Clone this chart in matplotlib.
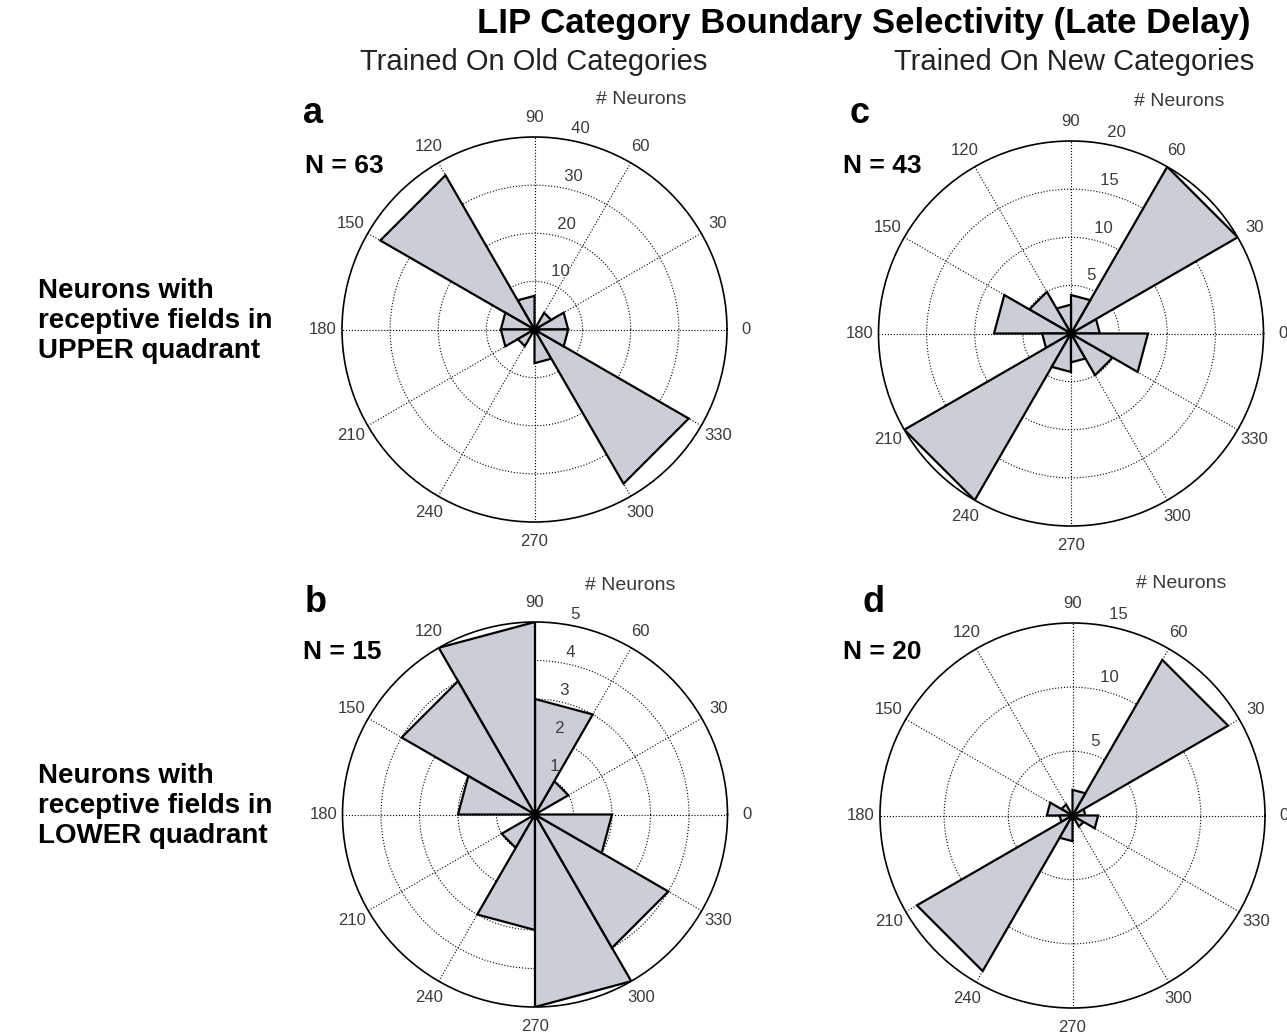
import numpy as np
import matplotlib.pyplot as plt

plt.rcParams['font.family'] = ['Liberation Sans', 'DejaVu Sans']

# rose histogram bins, 30 deg wide (degrees)
bin_edges = np.arange(0, 361, 30)
angle_labels = [str(a) for a in range(0, 360, 30)]

# neuron counts per bin, first bin is 0-30 deg
counts_a = [7, 4, 0, 7, 37, 7, 7, 4, 0, 7, 37, 7]   # old categories, upper RF
counts_b = [0, 1, 3, 5, 4, 2, 0, 1, 3, 5, 4, 2]     # old categories, lower RF
counts_c = [3, 20, 4, 3, 5, 8, 3, 20, 4, 3, 5, 8]   # new categories, upper RF
counts_d = [1, 14, 2, 0, 1, 2, 1, 14, 2, 0, 1, 2]   # new categories, lower RF

letters = ['a', 'b', 'c', 'd']
n_total = [63, 15, 43, 20]
r_max = [40, 5, 20, 15]
r_step = [10, 1, 5, 5]

title = 'LIP Category Boundary Selectivity (Late Delay)'
col_titles = ['Trained On Old Categories', 'Trained On New Categories']
row_titles = ['Neurons with\nreceptive fields in\nUPPER quadrant',
              'Neurons with\nreceptive fields in\nLOWER quadrant']

W, H = 1287, 1034
fig = plt.figure(figsize=(W / 100, H / 100), dpi=100, facecolor='w')

fill_col = '#cbced6'
tick_col = '#3a3a3a'
R = 192.5  # circle radius in pixels

# layout (pixels): plot centre, letter pos, "N =" pos, "# Neurons" pos
centres = [(534.5, 329.5), (535, 814.5), (1071, 333.5), (1072.5, 815.5)]
letter_pos = [(303, 123), (305, 612), (850, 123), (862, 612)]
n_pos = [(305, 173), (303, 659), (843, 173), (843, 659)]
unit_pos = [(641, 100), (630, 585), (1179, 101), (1181, 584)]


def rose(cx, cy, counts, rmax, rinc):
    ax = fig.add_axes([(cx - R) / W, 1 - (cy + R) / H, 2 * R / W, 2 * R / H],
                      projection='polar')
    ax.set_ylim(0, rmax)
    ax.set_xticks(np.deg2rad(bin_edges[:-1]))
    ax.set_yticks(np.arange(rinc, rmax, rinc))
    ax.set_xticklabels([])
    ax.set_yticklabels([])
    ax.tick_params(length=0)
    ax.grid(True, color='k', linestyle=':', linewidth=0.8)
    ax.spines['polar'].set_linewidth(1.2)

    # wedges with straight outer edge, like matlab rose()
    for i, v in enumerate(counts):
        if v == 0:
            continue
        t = np.deg2rad([0, bin_edges[i], bin_edges[i + 1], 0])
        ax.fill(t, [0, v, v, 0], facecolor=fill_col, edgecolor='k',
                linewidth=1.6, zorder=3)
    # the lines all meet in a dark blob at the origin
    ax.plot([0], [0], 'o', color='k', ms=5, zorder=4, clip_on=False)

    # angle labels outside the circle
    for a, lab in zip(bin_edges[:-1], angle_labels):
        ax.text(np.deg2rad(a), 1.1 * rmax, lab, ha='center', va='center',
                fontsize=12, color=tick_col)
    # radial labels along 82 deg
    for r in np.arange(rinc, rmax + rinc / 2, rinc):
        ax.text(np.deg2rad(82), r + rinc / 20, '  ' + str(int(r)),
                ha='left', va='bottom', fontsize=12, color=tick_col)
    return ax


all_counts = [counts_a, counts_b, counts_c, counts_d]
for k in range(4):
    cx, cy = centres[k]
    rose(cx, cy, all_counts[k], r_max[k], r_step[k])
    fig.text(letter_pos[k][0] / W, 1 - letter_pos[k][1] / H, letters[k],
             ha='left', va='baseline', fontsize=26, weight='bold')
    fig.text(n_pos[k][0] / W, 1 - n_pos[k][1] / H, 'N = %d' % n_total[k],
             ha='left', va='baseline', fontsize=19, weight='bold')
    fig.text(unit_pos[k][0] / W, 1 - unit_pos[k][1] / H, '# Neurons',
             ha='center', va='center', fontsize=14, color=tick_col)

fig.text(864 / W, 1 - 33 / H, title, ha='center', va='baseline',
         fontsize=25, weight='bold')
fig.text(534 / W, 1 - 70 / H, col_titles[0], ha='center', va='baseline',
         fontsize=21, color='#222222')
fig.text(1074 / W, 1 - 70 / H, col_titles[1], ha='center', va='baseline',
         fontsize=21, color='#222222')
fig.text(38 / W, 1 - 321 / H, row_titles[0], ha='left', va='center',
         fontsize=20, weight='bold', linespacing=1.2)
fig.text(38 / W, 1 - 806 / H, row_titles[1], ha='left', va='center',
         fontsize=20, weight='bold', linespacing=1.2)

plt.savefig('out.png', dpi=100, facecolor='w')
